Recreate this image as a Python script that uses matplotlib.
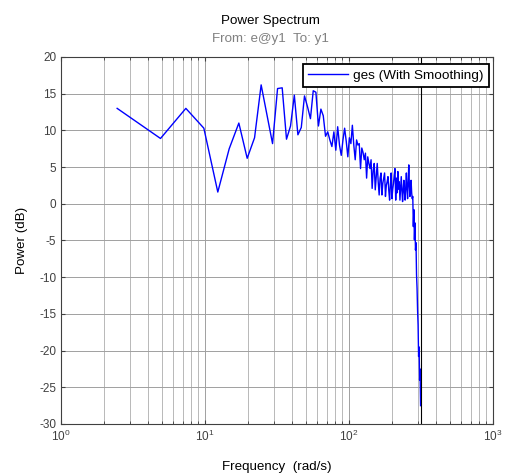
import numpy as np
import matplotlib.pyplot as plt

plt.rcParams['font.family'] = ['Liberation Sans', 'DejaVu Sans']
plt.rcParams['mathtext.fontset'] = 'custom'
plt.rcParams['mathtext.rm'] = 'Liberation Sans'
plt.rcParams['axes.unicode_minus'] = False

# spectrum estimate, 128 bins up to the Nyquist frequency
nyquist = 314.16
power = [
    13.0, 8.9, 13.0, 10.3, 1.6, 7.5, 11.0, 6.2, 9.0, 16.2,
    12.0, 8.2, 15.7, 15.8, 8.8, 10.6, 14.8, 9.4, 10.4, 14.7,
    13.2, 11.6, 15.4, 15.2, 10.6, 12.9, 12.0, 9.2, 9.8, 8.7,
    7.8, 9.8, 7.3, 10.5, 8.0, 6.6, 8.7, 10.3, 8.5, 6.4,
    9.0, 8.2, 10.7, 8.0, 6.0, 8.7, 8.0, 8.2, 4.8, 7.6,
    7.0, 6.0, 6.9, 3.5, 6.4, 5.5, 4.8, 6.0, 2.1, 4.5,
    5.5, 1.9, 3.8, 5.5, 3.0, 1.2, 3.5, 4.2, 1.2, 2.8,
    3.5, 4.2, 1.0, 2.5, 3.0, 3.7, 1.8, 0.5, 2.6, 4.2,
    0.7, 2.0, 2.8, 3.9, 4.8, 0.5, 3.5, 1.5, 4.4, 2.0,
    3.0, 0.5, 2.2, 3.7, 1.8, 0.3, 2.0, 3.2, 1.5, 0.5,
    2.5, 4.2, 2.0, 0.7, 3.0, 5.3, 2.5, 1.0, 2.0, 3.2,
    1.5, 0.7, 1.0, -3.1, -0.8, -4.9, -2.6, -6.3, -5.3, -9.7,
    -11.5, -14.5, -16.5, -20.8, -19.5, -24.0, -22.5, -27.5,
]
df = nyquist / len(power)
freq = df * np.arange(1, len(power) + 1)

fig = plt.figure(figsize=(5.05, 4.73), dpi=100)
ax = fig.add_axes([0.1208, 0.1036, 0.8554, 0.7759])

ax.semilogx(freq, power, color='#0000ff', lw=1.0, label='ges (With Smoothing)')
ax.axvline(nyquist, color='black', lw=0.8)

ax.set_xlim(1, 1000)
ax.set_ylim(-30, 20)
ax.set_yticks(np.arange(-30, 21, 5))

ax.grid(True, which='major', color='#a0a0a0', lw=0.7, ls='-')
ax.grid(True, which='minor', axis='x', color='#b8b8b8', lw=0.7, ls='-')
ax.set_axisbelow(True)

ax.tick_params(which='both', direction='in', top=True, right=True,
               labelsize=8.5, colors='#404040', labelcolor='#404040')
ax.tick_params(which='major', length=3)
ax.tick_params(which='minor', length=2)
for s in ax.spines.values():
    s.set_color('#404040')
    s.set_linewidth(0.8)

ax.set_xlabel('Frequency  (rad/s)', fontsize=9.6, labelpad=12)
ax.set_ylabel('Power (dB)', fontsize=9.6, labelpad=8)

fig.text(0.5355, 0.9556, 'Power Spectrum', ha='center', va='center', fontsize=9.6)
fig.text(0.5355, 0.9175, 'From: e@y1  To: y1', ha='center', va='center',
         fontsize=9.6, color='#808080')

leg = ax.legend(loc='upper right', bbox_to_anchor=(0.9907, 0.981), borderaxespad=0,
                fontsize=9.7, fancybox=False, framealpha=1, edgecolor='black',
                handlelength=3.0, handletextpad=0.35, borderpad=0.4)
leg.get_frame().set_linewidth(1.3)

fig.savefig('out.png', dpi=100)
